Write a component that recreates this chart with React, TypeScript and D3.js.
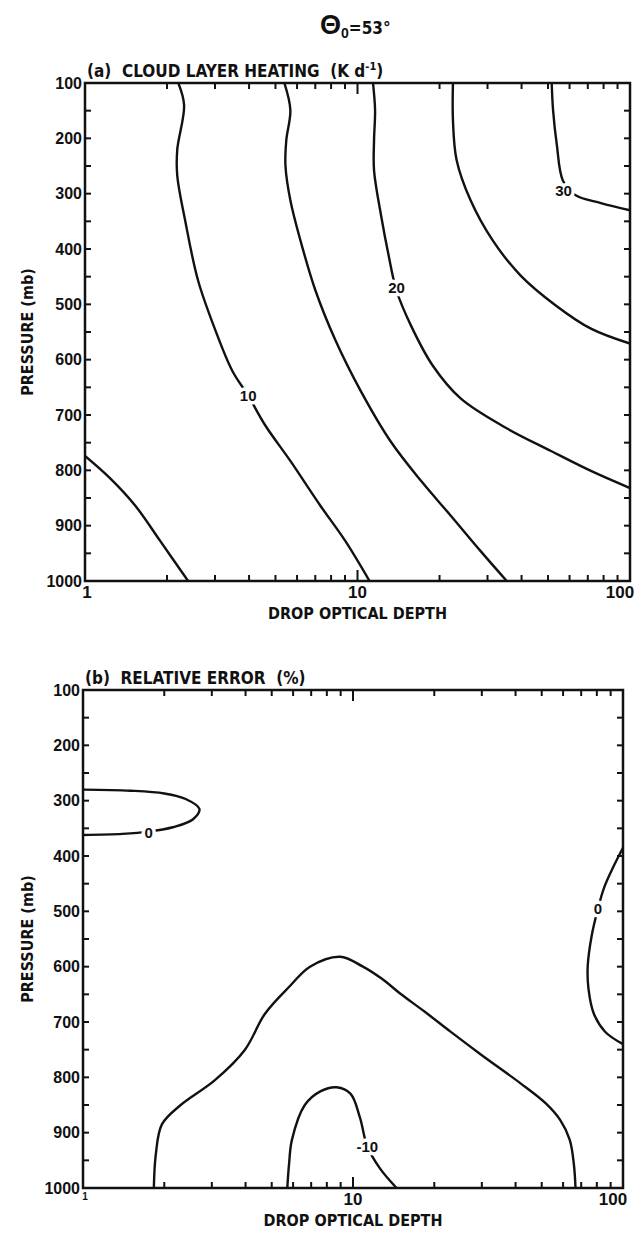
import React from 'react';
import * as d3 from 'd3';

// ---------- data ----------
const pressureTicks = [100, 200, 300, 400, 500, 600, 700, 800, 900, 1000];
const pressureMinor = [150, 250, 350, 450, 550, 650, 750, 850, 950];
const depthLabels = [1, 10, 100];
const depthMinor = [2, 3, 4, 5, 6, 7, 8, 9, 20, 30, 40, 50, 60, 70, 80, 90];

// (a) cloud layer heating contours, [drop optical depth, pressure mb]
const heat5: [number, number][] = [[1, 774], [1.24, 815], [1.53, 864], [1.89, 928], [2.39, 1000]];
const heat10: [number, number][] = [[2.2, 100], [2.31, 140], [2.18, 221], [2.18, 267], [2.33, 348], [2.6, 457], [3.01, 547], [3.47, 620], [3.97, 665], [4.59, 719], [5.67, 783], [7.31, 864], [9.03, 928], [11.07, 1000]];
const heat15: [number, number][] = [[5.39, 100], [5.67, 149], [5.48, 203], [5.44, 249], [5.67, 312], [6.17, 384], [7.01, 475], [8.3, 565], [10.26, 656], [13.2, 747], [17.1, 819], [22.0, 882], [28.3, 946], [35.3, 1000]];
const heat20: [number, number][] = [[11.4, 100], [11.6, 149], [11.5, 203], [11.5, 258], [12.2, 339], [13.0, 411], [13.9, 475], [15.7, 538], [18.9, 611], [23.9, 670], [35.0, 723], [51.3, 765], [71.9, 801], [100, 832]];
const heat25: [number, number][] = [[22.4, 100], [22.4, 167], [23.1, 239], [26.0, 312], [31.3, 384], [39.7, 448], [53.4, 502], [71.9, 544], [100, 571]];
const heat30: [number, number][] = [[51.6, 100], [52.2, 149], [53.9, 212], [56.7, 276], [63.2, 303], [78.2, 317], [100, 330]];
const heatLabels = [
  { text: '10', tau: 3.97, p: 665 },
  { text: '20', tau: 13.9, p: 470 },
  { text: '30', tau: 57, p: 295 },
];

// (b) relative error contours
const err0Left: [number, number][] = [[1, 280], [1.5, 282], [2.0, 287], [2.4, 297], [2.7, 315], [2.55, 334], [2.15, 348], [1.75, 356], [1.4, 360], [1, 362]];
const err0Right: [number, number][] = [[100, 385], [92, 420], [85, 458], [80.8, 495], [76.5, 545], [74, 600], [74.5, 640], [78, 685], [86, 718], [100, 740]];
const errM5: [number, number][] = [[1.83, 1000], [1.86, 940], [1.96, 885], [2.3, 850], [3.08, 805], [3.98, 750], [4.72, 685], [5.84, 635], [6.93, 600], [8.96, 582], [10.8, 599], [12.8, 622], [14.9, 648], [18.5, 682], [22.9, 717], [30, 760], [41.5, 810], [52, 848], [58.5, 877], [63.5, 913], [65.8, 958], [66.7, 1000]];
const errM10: [number, number][] = [[5.71, 1000], [5.8, 955], [5.94, 913], [6.63, 850], [7.6, 825], [8.7, 818], [9.8, 830], [10.6, 872], [11.3, 925], [12.6, 965], [14.5, 1000]];
const errLabels = [
  { text: '0', tau: 1.75, p: 358 },
  { text: '0', tau: 80.8, p: 495 },
  { text: '-10', tau: 11.3, p: 925 },
];

// ---------- drawing ----------
const NARROW = "'Liberation Sans Narrow', 'DejaVu Sans Condensed', 'Arial Narrow', sans-serif";
const SANS = "'Liberation Sans', Arial, Helvetica, sans-serif";

type PanelProps = {
  x0: number; x1: number; y0: number; y1: number;
  titleNode: React.ReactNode;
  contours: [number, number][][];
  labels: { text: string; tau: number; p: number }[];
  smallOne?: boolean;
};

function Panel({ x0, x1, y0, y1, titleNode, contours, labels, smallOne }: PanelProps) {
  const x = d3.scaleLog().domain([1, 100]).range([x0, x1]);
  const y = d3.scaleLinear().domain([100, 1000]).range([y0, y1]);
  const line = d3
    .line<[number, number]>()
    .x((d) => x(d[0]))
    .y((d) => y(d[1]))
    .curve(d3.curveCatmullRom.alpha(0.5));
  const ink = '#111';
  return (
    <g>
      <defs>
        <clipPath id={`clip${y0}`}>
          <rect x={x0} y={y0} width={x1 - x0} height={y1 - y0} />
        </clipPath>
      </defs>
      <g clipPath={`url(#clip${y0})`}>
        {contours.map((c, i) => (
          <path key={i} d={line(c) || ''} fill="none" stroke={ink} strokeWidth={2.4} strokeLinejoin="round" />
        ))}
      </g>
      {labels.map((l, i) => (
        <text key={i} x={x(l.tau)} y={y(l.p)} dy="0.35em" textAnchor="middle"
          fontFamily={SANS} fontWeight="bold" fontSize={15} fill={ink}
          stroke="#fff" strokeWidth={7} paintOrder="stroke" strokeLinejoin="round">{l.text}</text>
      ))}
      <rect x={x0} y={y0} width={x1 - x0} height={y1 - y0} fill="none" stroke={ink} strokeWidth={2.5} />
      {[...pressureTicks.slice(1, -1), ...pressureMinor].map((p) => (
        <g key={p}>
          <line x1={x0} x2={x0 + 6} y1={y(p)} y2={y(p)} stroke={ink} strokeWidth={2} />
          <line x1={x1} x2={x1 - 6} y1={y(p)} y2={y(p)} stroke={ink} strokeWidth={2} />
        </g>
      ))}
      {pressureTicks.map((p) => (
        <text key={p} x={x0 - 3} y={y(p)} dy="0.36em" textAnchor="end" fontFamily={SANS}
          fontWeight="bold" fontSize={16} fill={ink}>{p}</text>
      ))}
      {[...depthMinor, 10].map((t) => {
        const len = t === 10 ? 11 : 6;
        return (
          <g key={t}>
            <line x1={x(t)} x2={x(t)} y1={y1} y2={y1 - len} stroke={ink} strokeWidth={2} />
            <line x1={x(t)} x2={x(t)} y1={y0} y2={y0 + len} stroke={ink} strokeWidth={2} />
          </g>
        );
      })}
      {depthLabels.map((t) => {
        const small = smallOne && t === 1;
        return (
          <text key={t} x={x(t) + (t === 1 ? 2 : t === 100 ? -10 : 0)} y={y1 + (small ? 12 : 17)}
            textAnchor="middle" fontFamily={SANS} fontWeight="bold" fontSize={small ? 10 : 17} fill={ink}>{t}</text>
        );
      })}
      <text x={(x0 + x1) / 2} y={y1 + 38} textAnchor="middle" fontFamily={NARROW} fontWeight="bold"
        fontSize={16} fill={ink}>DROP OPTICAL DEPTH</text>
      <text transform={`translate(33,${(y0 + y1) / 2}) rotate(-90)`} textAnchor="middle" fontFamily={NARROW}
        fontWeight="bold" fontSize={16} fill={ink}>PRESSURE  (mb)</text>
      <text x={x0 + 2} y={y0 - 6} fontFamily={NARROW} fontWeight="bold" fontSize={17} fill={ink} style={{ whiteSpace: 'pre' }}>
        {titleNode}
      </text>
    </g>
  );
}

export default function App() {
  return (
    <svg width={638} height={1244} style={{ position: 'absolute', left: 0, top: 0, background: '#fff' }}>
      <rect x={0} y={0} width={638} height={1244} fill="#fff" />
      <text x={320} y={34} fontFamily={SANS} fontWeight="bold" fill="#111">
        <tspan fontSize={27}>Θ</tspan>
        <tspan fontSize={14} dy={4}>0</tspan>
        <tspan fontSize={17} fontFamily={NARROW} dy={-4}>=53°</tspan>
      </text>
      <Panel x0={85} x1={630} y0={83} y1={581}
        titleNode={<>
          <tspan>(a)  CLOUD LAYER HEATING  (K d</tspan>
          <tspan fontSize={11} dy={-7}>-1</tspan>
          <tspan dy={7}>)</tspan>
        </>}
        contours={[heat5, heat10, heat15, heat20, heat25, heat30]}
        labels={heatLabels} />
      <Panel x0={83} x1={623} y0={690} y1={1188}
        titleNode={<tspan>(b)  RELATIVE ERROR  (%)</tspan>}
        contours={[err0Left, err0Right, errM5, errM10]}
        labels={errLabels} smallOne />
    </svg>
  );
}
